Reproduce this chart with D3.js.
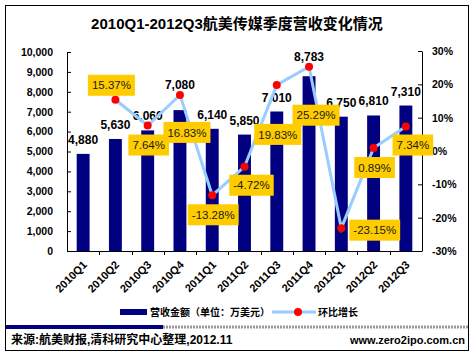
<!DOCTYPE html>
<html><head><meta charset="utf-8">
<script src="https://cdnjs.cloudflare.com/ajax/libs/d3/7.8.5/d3.min.js"></script>
<style>
html,body{margin:0;padding:0;background:#fff;}
text{font-family:"Liberation Sans","Noto Sans CJK SC",Arial,sans-serif;}
</style></head>
<body><svg id="c" width="476" height="357"></svg>
<script>
const categories = ["2010Q1","2010Q2","2010Q3","2010Q4","2011Q1","2011Q2","2011Q3","2011Q4","2012Q1","2012Q2","2012Q3"];
const revenue = [4880,5630,6060,7080,6140,5850,7010,8783,6750,6810,7310];
const growth = [null,15.37,7.64,16.83,-13.28,-4.72,19.83,25.29,-23.15,0.89,7.34];
const leftTicks = [0,1000,2000,3000,4000,5000,6000,7000,8000,9000,10000];
const rightTicks = [-30,-20,-10,0,10,20,30];
const titleText = "2010Q1-2012Q3航美传媒季度营收变化情况";
const legendBar = "营收金额（单位：万美元）";
const legendLine = "环比增长";
const sourceText = "来源:航美财报,清科研究中心整理,2012.11";
const siteText = "www.zero2ipo.com.cn";
// which side of its point each growth label box sits on (layout only)
const growthLabelSide = [null,"above","below","belowRight","below","belowRight","below","belowRight","right","below","belowRight"];

const svg = d3.select("#c");
const L = 67, R = 422, T = 52, B = 251;

svg.append("rect").attr("x",5.5).attr("y",5.5).attr("width",463).attr("height",345)
  .attr("fill","#fff").attr("stroke","#000").attr("stroke-width",1);

svg.append("text").attr("x",237).attr("y",29).attr("text-anchor","middle")
  .attr("font-size",15).attr("font-weight","bold").text(titleText);

const x = d3.scaleBand().domain(categories).range([L,R]);
const yL = d3.scaleLinear().domain([0,10000]).range([B,T]);
const yR = d3.scaleLinear().domain([-30,30]).range([B,T-1]);

const ga = svg.append("g").attr("transform",`translate(${L},0)`)
  .call(d3.axisLeft(yL).tickValues(leftTicks).tickFormat(d3.format(",")).tickSize(-4).tickSizeOuter(0).tickPadding(14));
ga.selectAll("text").attr("font-size",10.5).attr("font-weight","bold").attr("fill","#000").style("font-family","'Liberation Sans',Arial,sans-serif");
const gr = svg.append("g").attr("transform",`translate(${R},0)`)
  .call(d3.axisRight(yR).tickValues(rightTicks).tickFormat(d=>d+"%").tickSize(-4).tickSizeOuter(0).tickPadding(10));
gr.selectAll("text").attr("font-size",10.5).attr("font-weight","bold").attr("fill","#000").style("font-family","'Liberation Sans',Arial,sans-serif");
svg.selectAll(".domain").attr("stroke","#000");
svg.selectAll(".tick line").attr("stroke","#000");

const bw = x.bandwidth()*0.4;
svg.append("g").selectAll("rect").data(revenue).join("rect")
  .attr("x",(d,i)=>x(categories[i])+x.bandwidth()/2-bw/2)
  .attr("y",d=>yL(d)).attr("width",bw).attr("height",d=>B-yL(d)).attr("fill","#000080");

svg.append("line").attr("x1",L).attr("x2",R).attr("y1",B+0.5).attr("y2",B+0.5).attr("stroke","#000");
svg.append("g").selectAll("line").data(categories.slice(1)).join("line")
  .attr("x1",d=>Math.round(x(d))+0.5).attr("x2",d=>Math.round(x(d))+0.5)
  .attr("y1",B).attr("y2",B+4).attr("stroke","#000");
svg.append("g").selectAll("text").data(categories).join("text")
  .attr("transform",d=>`translate(${x(d)+x.bandwidth()/2-1},${B+9}) rotate(-45)`)
  .attr("text-anchor","end").attr("dy","0.71em")
  .attr("font-size",11).attr("font-weight","bold").text(d=>d);

// growth points
const pts = growth.map((g,i)=>g==null?null:{i,x:x(categories[i])+x.bandwidth()/2,y:yR(g),g});
const valid = pts.filter(p=>p);

// bar value labels (lifted above a marker that would sit inside them)
const barLabels = svg.append("g").selectAll("text").data(revenue).join("text")
  .attr("x",(d,i)=>x(categories[i])+x.bandwidth()/2)
  .attr("y",d=>yL(d)-10).attr("text-anchor","middle")
  .attr("font-size",12).attr("font-weight","bold").text(d=>d3.format(",")(d));
barLabels.each(function(d,i){
  const p = pts[i]; if(!p) return;
  const b = this.getBBox();
  if(p.x>b.x && p.x<b.x+b.width && p.y>b.y && p.y<b.y+b.height){
    d3.select(this).attr("y", p.y-6);
  }
});
const barBoxes = barLabels.nodes().map(n=>n.getBBox());

svg.append("path").datum(valid).attr("fill","none").attr("stroke","#99CCFF").attr("stroke-width",3)
  .attr("d",d3.line().x(p=>p.x).y(p=>p.y));
svg.append("g").selectAll("circle").data(valid).join("circle")
  .attr("cx",p=>p.x).attr("cy",p=>p.y).attr("r",4).attr("fill","#FF0000");

function hit(b, list){return list.some(o=>b.x<o.x+o.width&&b.x+b.width>o.x&&b.y<o.y+o.height&&b.y+b.height>o.y);}
const gl = svg.append("g");
valid.forEach(p=>{
  const t = gl.append("text").attr("font-size",11.5).attr("fill","#1a1a1a").text(p.g.toFixed(2)+"%");
  const bb = t.node().getBBox();
  const w = bb.width+8, h = 21;
  const side = growthLabelSide[p.i];
  let bx, by;
  if(side==="above"){ bx=p.x-4-w/2; by=p.y-4-h; }
  else if(side==="right"){ bx=p.x+8; by=p.y+2-h/2; }
  else if(side==="belowRight"){ bx=p.x+7-w/2; by=p.y+8; }
  else { bx=p.x+1-w/2; by=p.y+9; }
  if(side==="below"||side==="belowRight"){
    let n=0;
    while(hit({x:bx,y:by,width:w,height:h},barBoxes) && n<30){ by+=1; n++; }
  }
  gl.insert("rect","text").attr("x",bx).attr("y",by).attr("width",w).attr("height",h).attr("fill","#FFCC00");
  t.attr("x",bx+w/2).attr("y",by+h/2).attr("dy","0.36em").attr("text-anchor","middle");
});

const ly = 312;
svg.append("rect").attr("x",120).attr("y",ly-3).attr("width",27).attr("height",6).attr("fill","#000080");
svg.append("text").attr("x",150).attr("y",ly).attr("dy","0.36em").attr("font-size",10).attr("font-weight","bold").text(legendBar);
svg.append("line").attr("x1",272).attr("x2",316).attr("y1",ly).attr("y2",ly).attr("stroke","#99CCFF").attr("stroke-width",3);
svg.append("circle").attr("cx",298).attr("cy",ly).attr("r",4).attr("fill","#FF0000");
svg.append("text").attr("x",318).attr("y",ly).attr("dy","0.36em").attr("font-size",10).attr("font-weight","bold").text(legendLine);

svg.append("line").attr("x1",6).attr("x2",163).attr("y1",327).attr("y2",327).attr("stroke","#000080").attr("stroke-width",4);
svg.append("line").attr("x1",163).attr("x2",468).attr("y1",327).attr("y2",327).attr("stroke","#999").attr("stroke-width",3).attr("stroke-dasharray","2,1");

svg.append("text").attr("x",11).attr("y",344).attr("font-size",12).attr("font-weight","bold").text(sourceText);
svg.append("text").attr("x",465).attr("y",344).attr("text-anchor","end").attr("font-size",11).attr("font-weight","bold").text(siteText);
</script></body></html>
